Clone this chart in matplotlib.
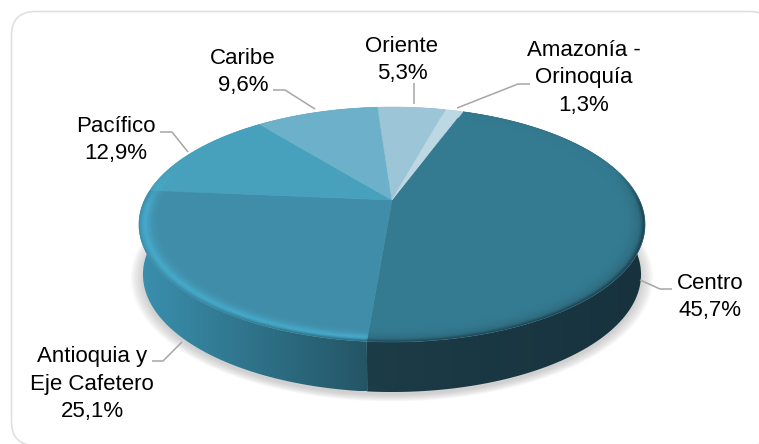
import numpy as np
import matplotlib
matplotlib.use('Agg')
import matplotlib.pyplot as plt
from matplotlib.colors import to_rgb
from matplotlib.patches import FancyBboxPatch, Polygon

plt.rcParams['font.family'] = ['Liberation Sans', 'DejaVu Sans']

regions = ['Centro', 'Antioquia y\nEje Cafetero', 'Pacífico', 'Caribe', 'Oriente', 'Amazonía -\nOrinoquía']
shares = [45.7, 25.1, 12.9, 9.6, 5.3, 1.3]

top_colors = ['#347a90', '#408da9', '#47a1bd', '#6cb1c9', '#9cc5d8', '#bcd8e3']
rim_colors = ['#2f6e82', '#46a9c9', '#4bacca', '#7cbcd2', '#a6cfdf', '#c8e0e9']
wall_left = ['#1c3c48', '#3a90ae', '#3f9ab8', '#5fa5bd', '#8bb8c9', '#a8c8d4']
wall_right = ['#17323d', '#245565', '#3f9ab8', '#5fa5bd', '#8bb8c9', '#a8c8d4']

start_angle = 20.1

# label centres and leader paths
label_pos = [(710, 297), (92, 384), (116, 140), (243, 72), (402, 60), (584, 78)]
leaders = [[(640, 280), (660, 289), (672, 289)],
           [(182, 342), (163, 361), (152, 361)],
           [(188, 152), (172, 132), (160, 132)],
           [(315, 109), (285, 90), (273, 90)],
           [(414, 104), (414, 83)],
           [(457, 108), (518, 84), (530, 84)]]

# tilted disc: pie plane to pixels
cx, cy = 392, 200
ax_x, ax_y, persp = 247.5, 112.4, 0.2085
depth = 50


def project(deg, r=1.0, drop=0.0):
    t = np.radians(deg)
    u, v = r * np.sin(t), r * np.cos(t)
    w = 1 + persp * v
    shrink = 1 - 0.016 * drop / depth
    return cx + ax_x * u / w * shrink, cy - ax_y * v / w + drop


def arc(a0, a1, r=1.0, drop=0.0):
    ts = np.linspace(a0, a1, max(int(abs(a1 - a0) * 2), 2))
    return np.column_stack(project(ts, r, drop))


def rgb(names):
    return np.array([to_rgb(n) for n in names])


fig = plt.figure(figsize=(7.59, 4.44), dpi=100)
ax = fig.add_axes([0, 0, 1, 1])
ax.axis('off')

# the frame runs off the right and bottom edges
ax.add_patch(FancyBboxPatch((11.5, 11.5), 762, 434, boxstyle='round,pad=0,rounding_size=24',
                            fc='white', ec='#e0e0e0', lw=1.2))

# soft shadow under the disc
outline = arc(0, 360, 1.0, depth)
middle = outline.mean(axis=0)
for grow in np.linspace(1.05, 1.0, 14):
    pts = (outline - middle) * grow + middle + [0, 3]
    ax.add_patch(Polygon(pts, fc='#808080', ec='none', alpha=0.028, zorder=1))

edges = start_angle + np.concatenate([[0], np.cumsum(shares)]) * 3.6

# side wall, a left to right gradient clipped to each slice
x_ramp = np.linspace(0, 1, 256)
wall_x0, wall_x1 = [], []
for i in range(len(shares)):
    inner = arc(edges[i], edges[i + 1], 1.0, 0)
    lower = arc(edges[i + 1], edges[i], 1.0, depth)
    wall = np.vstack([inner, lower])
    x0, x1 = wall[:, 0].min(), wall[:, 0].max()
    y0, y1 = wall[:, 1].min(), wall[:, 1].max()
    wall_x0.append(x0)
    wall_x1.append(x1)
    ramp = rgb([wall_left[i]]) + (rgb([wall_right[i]]) - rgb([wall_left[i]])) * x_ramp[:, None]
    im = ax.imshow(ramp[None, :, :], extent=(x0, x1, y1, y0), aspect='auto', zorder=2)
    clip = Polygon(wall, transform=ax.transData, fc='none', ec='none')
    ax.add_patch(clip)
    im.set_clip_path(clip)

# top faces
for i in range(len(shares)):
    pts = np.vstack([[project(edges[i], 0.0)], arc(edges[i], edges[i + 1])])
    ax.add_patch(Polygon(pts, fc=top_colors[i], ec=top_colors[i], lw=0.4, zorder=3))

# bevel round the edge of the top, stronger towards the viewer
x_px = np.arange(130, 655, 1 / 3)
y_px = np.arange(100, 352, 1 / 3)
gx, gy = np.meshgrid(x_px, y_px)
up = cy - gy
v = up / (ax_y - persp * up)
u = (gx - cx) * (1 + persp * v) / ax_x
rad = np.hypot(u, v)
theta = np.degrees(np.arctan2(u, v))
which = np.clip(np.searchsorted(np.cumsum(shares) * 3.6, (theta - start_angle) % 360), 0, len(shares) - 1)
cos_t = v / np.maximum(rad, 1e-6)
near = np.maximum(np.clip((0.3 - cos_t) / 0.35, 0, 1), 0.08)[..., None]
f = np.clip((rad - 0.92) / 0.08, 0, 1)[..., None]
top_px, rim_px = rgb(top_colors)[which], rgb(rim_colors)[which]
x_frac = np.clip((gx - np.array(wall_x0)[which]) / (np.array(wall_x1)[which] - np.array(wall_x0)[which]), 0, 1)[..., None]
wall_px = rgb(wall_left)[which] + (rgb(wall_right)[which] - rgb(wall_left)[which]) * x_frac
inner_mix = top_px + (rim_px - top_px) * np.clip(f / 0.7, 0, 1) ** 2
outer_mix = inner_mix + (wall_px - inner_mix) * np.clip((f - 0.7) / 0.3, 0, 1) ** 1.5
shade = top_px + (outer_mix - top_px) * near
alpha = np.clip((1 - rad) * 250, 0, 1) * (rad > 0.92)
ax.imshow(np.dstack([shade, alpha]), extent=(x_px[0], x_px[-1], y_px[-1], y_px[0]), aspect='auto', zorder=4)

ax.set_xlim(0, 759)
ax.set_ylim(444, 0)

# labels and leaders
for i, name in enumerate(regions):
    xs, ys = zip(*leaders[i])
    ax.plot(xs, ys, color='#a6a6a6', lw=1.1, zorder=5, solid_capstyle='butt')
    value = f'{shares[i]:.1f}'.replace('.', ',') + '%'
    ax.text(label_pos[i][0], label_pos[i][1], f'{name}\n{value}', ha='center', va='center',
            fontsize=16, color='black', linespacing=1.38, zorder=6)

fig.savefig('out.png', dpi=100)
